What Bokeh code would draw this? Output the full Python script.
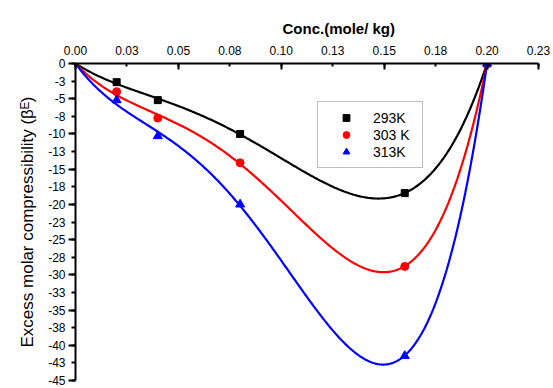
import numpy as np
from bokeh.plotting import figure
from bokeh.models import Range1d, FixedTicker, Legend, LegendItem
from bokeh.embed import file_html
from bokeh.resources import INLINE

# ---- data ----
conc = [0.0, 0.02, 0.04, 0.08, 0.16, 0.20]
beta_293 = [0.0, -2.65, -5.2, -10.0, -18.4, 0.0]
beta_303 = [0.0, -4.0, -7.75, -14.1, -28.8, 0.0]
beta_313 = [0.0, -5.2, -10.3, -20.0, -41.5, 0.0]
series_names = ["293K", "303 K", "313K"]

x_ticks = [0.0, 0.025, 0.05, 0.075, 0.1, 0.125, 0.15, 0.175, 0.2, 0.225]
x_tick_labels = ["0.00", "0.03", "0.05", "0.08", "0.10", "0.13", "0.15", "0.18", "0.20", "0.23"]
y_ticks = [0.0, -2.5, -5.0, -7.5, -10.0, -12.5, -15.0, -17.5, -20.0, -22.5, -25.0,
           -27.5, -30.0, -32.5, -35.0, -37.5, -40.0, -42.5, -45.0]
y_tick_labels = ["0", "-3", "-5", "-8", "-10", "-13", "-15", "-18", "-20", "-23", "-25",
                 "-28", "-30", "-33", "-35", "-38", "-40", "-43", "-45"]


def rk_fit_curve(m, y, n=400, order=3):
    """Least-squares fit y = m (m_end - m) * sum a_k m^k (Redlich-Kister style)."""
    m = np.asarray(m, float)
    y = np.asarray(y, float)
    m_end = m[-1]
    base = m * (m_end - m)
    A = np.column_stack([base * m ** k for k in range(order)])
    coef, *_ = np.linalg.lstsq(A[1:-1], y[1:-1], rcond=None)
    ms = np.linspace(m[0], m_end, n)
    bs = ms * (m_end - ms)
    ys = sum(c * bs * ms ** k for k, c in enumerate(coef))
    return ms, ys


FONT = "Liberation Sans"
FL, FR, FT, FB = 75, 15, 63, 8
W, H = 553, 388

p = figure(width=W, height=H, output_backend="svg", toolbar_location=None,
           x_range=Range1d(0, 0.225), y_range=Range1d(-45, 0),
           x_axis_location="above", y_axis_location="left",
           min_border_left=FL, min_border_right=FR, min_border_top=FT, min_border_bottom=FB,
           title="Conc.(mole/ kg)")
p.outline_line_color = None
p.grid.visible = False
p.background_fill_color = "white"
p.border_fill_color = "white"

p.title.align = "left"
p.title.offset = 207
p.title.text_font = FONT
p.title.text_font_size = "15px"
p.title.text_font_style = "bold"
p.title.text_color = "black"
p.title.standoff = 12

xa = p.xaxis[0]
xa.ticker = FixedTicker(ticks=x_ticks, minor_ticks=[0.0, 0.05, 0.1, 0.15, 0.2, 0.225])
xa.major_label_overrides = {t: l for t, l in zip(x_ticks, x_tick_labels)}
xa.major_tick_in = 3
xa.major_tick_out = 0
xa.minor_tick_in = 6
xa.minor_tick_out = 0
xa.axis_line_width = 2
xa.major_tick_line_width = 2
xa.minor_tick_line_width = 2
xa.major_label_text_font = FONT
xa.major_label_text_font_size = "12px"
xa.major_label_text_color = "black"
xa.major_label_standoff = 9

ya = p.yaxis[0]
ya.ticker = FixedTicker(ticks=y_ticks, minor_ticks=[t for t in y_ticks if t % 5 == 0])
ya.major_label_overrides = {t: l for t, l in zip(y_ticks, y_tick_labels)}
ya.major_tick_in = 0
ya.major_tick_out = 4
ya.minor_tick_in = 0
ya.minor_tick_out = 7
ya.axis_line_width = 2
ya.major_tick_line_width = 2
ya.minor_tick_line_width = 2
ya.major_label_text_font = FONT
ya.major_label_text_font_size = "12px"
ya.major_label_text_color = "black"
ya.major_label_standoff = 3
ya.axis_label = "Excess molar compressibility (\u03b2\u1d31)"
ya.axis_label_text_font = FONT
ya.axis_label_text_font_size = "17px"
ya.axis_label_text_font_style = "normal"
ya.axis_label_text_color = "black"
ya.axis_label_standoff = 8

colors = ["black", "red", "blue"]
markers = ["square", "circle", "triangle"]
sizes = [7, 8, 9]
items = []
for vals, c, m, s, name in zip([beta_293, beta_303, beta_313], colors, markers, sizes, series_names):
    xs, ys = rk_fit_curve(conc, vals)
    p.line(xs, ys, line_color=c, line_width=2.2)
    r = p.scatter(conc[1:], vals[1:], marker=m, size=s, fill_color=c, line_color=c)
    items.append(LegendItem(label=name, renderers=[r]))

legend = Legend(items=items, location=(242, 212))
legend.border_line_color = "#808080"
legend.border_line_width = 1
legend.background_fill_alpha = 1
legend.padding = 7
legend.margin = 0
legend.spacing = 0
legend.glyph_height = 17
legend.label_height = 17
legend.glyph_width = 42
legend.label_width = 42
legend.label_standoff = 6
legend.label_text_font = FONT
legend.label_text_font_size = "14px"
legend.label_text_color = "black"
p.add_layout(legend, "center")

open("out.html", "w").write(file_html(p, INLINE))
